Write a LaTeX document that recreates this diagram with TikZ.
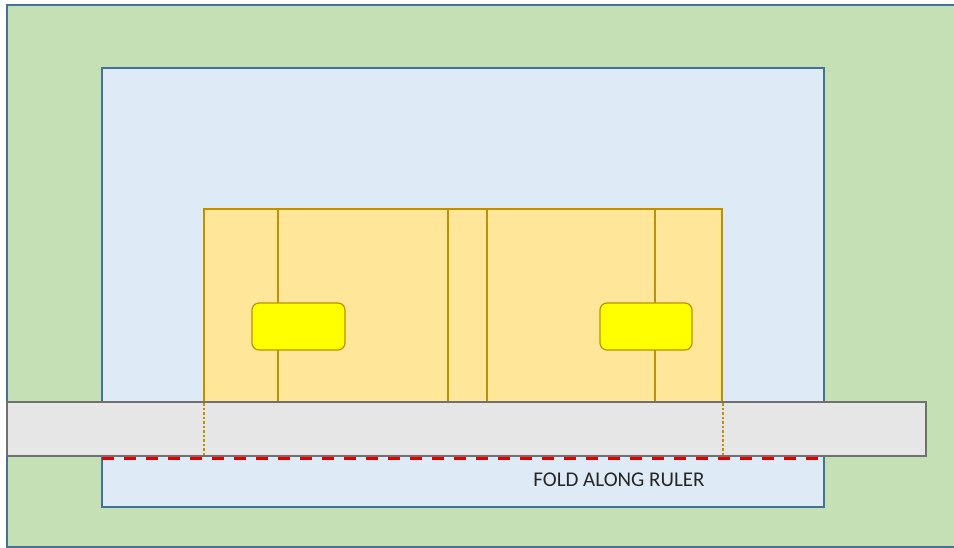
\documentclass[tikz,border=0pt]{standalone}
\usepackage{fontspec}
\setmainfont{Carlito}
\definecolor{greenfill}{HTML}{C5E0B4}
\definecolor{bluefill}{HTML}{DEEBF7}
\definecolor{edgeblue}{HTML}{41719C}
\definecolor{yfill}{HTML}{FFE699}
\definecolor{yedge}{HTML}{BF9000}
\definecolor{pillfill}{HTML}{FFFF00}
\definecolor{grayfill}{HTML}{E7E6E6}
\definecolor{grayedge}{HTML}{707070}
\definecolor{foldred}{HTML}{E00000}
\begin{document}
\begin{tikzpicture}[x=1pt,y=-1pt,
  outer/.style={fill=greenfill,draw=edgeblue,line width=1.5pt},
  inner/.style={fill=bluefill,draw=edgeblue,line width=1.2pt},
  box/.style={fill=yfill,draw=yedge,line width=1.2pt},
  divider/.style={draw=yedge,line width=1.2pt},
  pill/.style={fill=pillfill,draw=yedge,line width=1.2pt,rounded corners=7pt},
  ruler/.style={fill=grayfill,draw=grayedge,line width=1.5pt},
  foldline/.style={draw=foldred,line width=3.5pt,dash pattern=on 12pt off 10pt},
  guide/.style={draw=yedge,line width=1.3pt,dash pattern=on 2.5pt off 2pt},
  label/.style={font=\fontsize{21}{25}\selectfont,text=black!85}]
\useasboundingbox (0,0) rectangle (954,548);
\fill[white] (0,0) rectangle (954,548);
\path[outer] (7,5) rectangle (956,547);
\path[inner] (102,68) rectangle (824,507);
\path[box] (204,209) rectangle (722,402);
\draw[divider] (278,209) -- (278,402);
\draw[divider] (448,209) -- (448,402);
\draw[divider] (487,209) -- (487,402);
\draw[divider] (655,209) -- (655,402);
\node[pill,minimum width=93pt,minimum height=47pt,inner sep=0pt] (pl) at (298.5,326.5) {};
\node[pill,minimum width=92pt,minimum height=47pt,inner sep=0pt] (pr) at (646,326.5) {};
\path[ruler] (7,402) rectangle (926,456);
\draw[guide] (204,403) -- (204,456);
\draw[guide] (723,403) -- (723,456);
\draw[foldline] (102,458.5) -- (824,458.5);
\node[label] (fold) at (619,480) {FOLD ALONG RULER};
\end{tikzpicture}
\end{document}
